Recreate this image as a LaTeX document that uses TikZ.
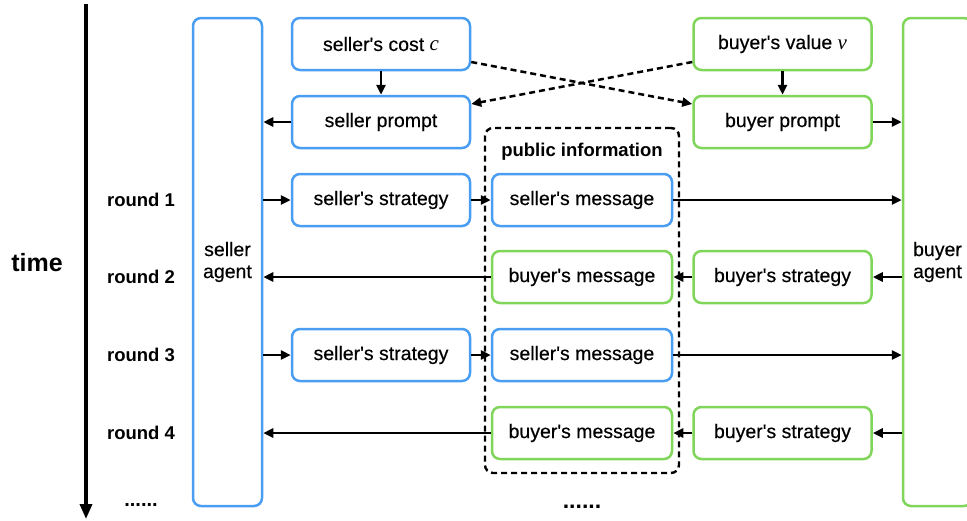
\documentclass[tikz,border=0pt]{standalone}
\usepackage{fontspec}
\newfontfamily\hv{Liberation Sans}[FakeBold=0.35]
\newfontfamily\hvb{Liberation Sans Bold}
\newfontfamily\tm{Liberation Serif}
\usetikzlibrary{arrows.meta}
\definecolor{sblue}{RGB}{74,158,242}
\definecolor{bgreen}{RGB}{128,214,90}
\newcommand{\varit}[1]{{\tm\itshape\fontsize{21}{23}\selectfont #1}}
\begin{document}
\begin{tikzpicture}[x=1pt,y=-1pt,
  box/.style={draw, rounded corners=8pt, line width=2.5pt, minimum width=178pt,
    minimum height=52pt, inner sep=0pt, fill=white,
    font=\hv\fontsize{19.5}{23}\selectfont},
  sbox/.style={box, draw=sblue},
  bbox/.style={box, draw=bgreen},
  agentbox/.style={draw, rounded corners=8pt, line width=2.5pt, minimum width=69pt,
    minimum height=488pt, inner sep=0pt, align=center,
    font=\hv\fontsize{19.5}{22}\selectfont},
  arr/.style={-{Triangle[length=10pt,width=9pt]}, line width=2.5pt},
  dasharr/.style={arr, dash pattern=on 6pt off 4pt},
  lab/.style={font=\hvb\fontsize{18.5}{22}\selectfont, inner sep=0pt}
]
\useasboundingbox (0,0) rectangle (967,520);
\clip (0,0) rectangle (967,520);

% public information frame
\node[draw, dash pattern=on 6pt off 4pt, rounded corners=8pt, line width=2.4pt,
  minimum width=194pt, minimum height=345pt, inner sep=0pt] (pub) at (582,300.5) {};
\node[lab] (pubtitle) at (582,152) {public information};

% agents
\node[agentbox, draw=sblue] (sagent) at (227.5,262) {seller\\agent};
\node[agentbox, draw=bgreen] (bagent) at (937.5,262) {buyer\\agent};

% seller column
\node[sbox] (cost) at (381,44) {seller's cost \varit{c}};
\node[sbox] (sprompt) at (381,122) {seller prompt};
\node[sbox] (sstrat1) at (381,200) {seller's strategy};
\node[sbox] (sstrat3) at (381,355) {seller's strategy};

% public column
\node[sbox, minimum width=180pt] (smsg1) at (582,200) {seller's message};
\node[bbox, minimum width=180pt] (bmsg2) at (582,277) {buyer's message};
\node[sbox, minimum width=180pt] (smsg3) at (582,355) {seller's message};
\node[bbox, minimum width=180pt] (bmsg4) at (582,433) {buyer's message};

% buyer column
\node[bbox] (value) at (782.5,44) {buyer's value \varit{v}};
\node[bbox] (bprompt) at (782.5,122) {buyer prompt};
\node[bbox] (bstrat2) at (782.5,277) {buyer's strategy};
\node[bbox] (bstrat4) at (782.5,433) {buyer's strategy};

% time axis
\coordinate (ttop) at (86,4);
\coordinate (tbot) at (86,519);
\draw[-{Triangle[length=15pt,width=12pt]}, line width=3.4pt] (ttop) -- (tbot);
\node[font=\hvb\fontsize{25}{30}\selectfont, inner sep=0pt] (time) at (37,263) {time};

% round labels
\node[lab] (r1) at (141,200) {round 1};
\node[lab] (r2) at (141,277) {round 2};
\node[lab] (r3) at (141,355) {round 3};
\node[lab] (r4) at (141,433) {round 4};
\node[lab, font=\hvb\fontsize{20}{24}\selectfont] (dots1) at (141,505) {......};
\node[lab, font=\hvb\fontsize{23}{26}\selectfont] (dots2) at (582,507) {......};

% top arrows
\draw[arr] (cost) -- (sprompt);
\draw[arr] (value) -- (bprompt);
\draw[arr] (sprompt) -- (sprompt -| sagent.east);
\draw[arr] (bprompt) -- (bprompt -| bagent.west);
\draw[dasharr] ([yshift=-18pt]cost.east) -- ([yshift=18pt]bprompt.west);
\draw[dasharr] ([yshift=-18pt]value.west) -- ([yshift=18pt]sprompt.east);

% round 1
\draw[arr] (sagent.east |- sstrat1) -- (sstrat1);
\draw[arr] (sstrat1) -- (smsg1);
\draw[arr] (smsg1) -- (smsg1 -| bagent.west);
% round 2
\draw[arr] (bagent.west |- bstrat2) -- (bstrat2);
\draw[arr] (bstrat2) -- (bmsg2);
\draw[arr] (bmsg2) -- (bmsg2 -| sagent.east);
% round 3
\draw[arr] (sagent.east |- sstrat3) -- (sstrat3);
\draw[arr] (sstrat3) -- (smsg3);
\draw[arr] (smsg3) -- (smsg3 -| bagent.west);
% round 4
\draw[arr] (bagent.west |- bstrat4) -- (bstrat4);
\draw[arr] (bstrat4) -- (bmsg4);
\draw[arr] (bmsg4) -- (bmsg4 -| sagent.east);
\end{tikzpicture}
\end{document}
